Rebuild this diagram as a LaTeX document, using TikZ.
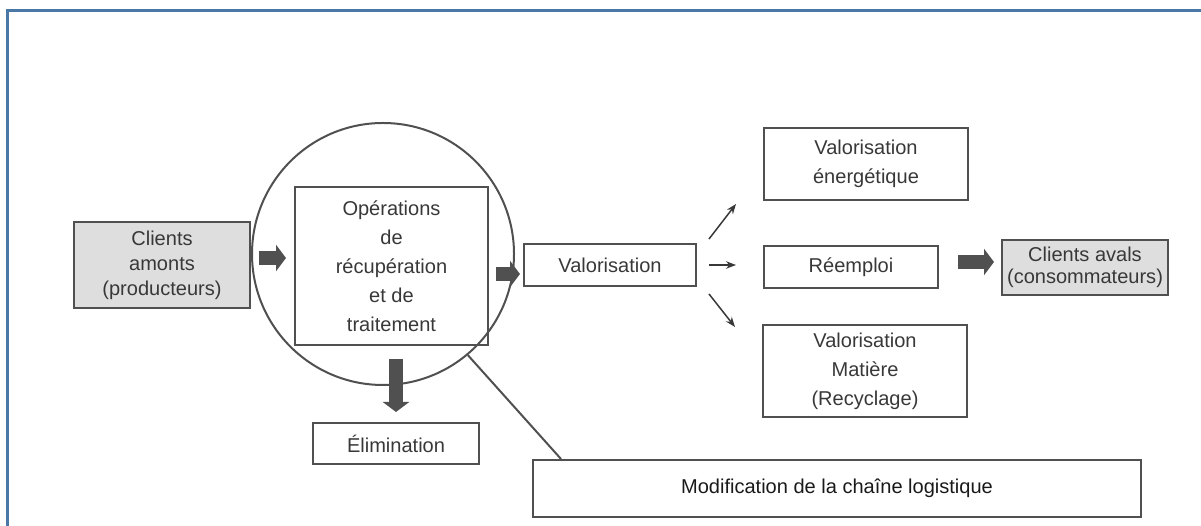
\documentclass[tikz,border=0pt]{standalone}
\usepackage{fontspec}
\setmainfont{Liberation Sans}
\usetikzlibrary{arrows.meta, positioning}

\definecolor{frameblue}{HTML}{4A78A6}
\definecolor{boxgray}{HTML}{505050}
\definecolor{txtgray}{HTML}{383838}
\definecolor{clientfill}{HTML}{DEDEDE}

\begin{document}
\begin{tikzpicture}[
        every node/.style={draw=boxgray, line width=0.04cm, text=txtgray, align=center,
            inner sep=0pt, font=\fontsize{11.4}{16.5}\selectfont},
        client/.style={fill=clientfill},
        fat/.style={-{Triangle[width=0.52cm, length=0.2cm]}, line width=0.28cm, boxgray}
    ]

    \tikzset{
    branch/.style={-{Stealth[length=0.2cm, width=0.15cm]}, line width=0.03cm, txtgray},
    link/.style={line width=0.04cm, boxgray}
}

    \useasboundingbox (0,0) rectangle (24.02,-10.52);
    \draw[frameblue, line width=0.06cm] (0.14,-10.7) -- (0.14,-0.22) -- (24.2,-0.22);

    \node[client, minimum width=3.52cm, minimum height=1.72cm, font=\fontsize{11.4}{14.2}\selectfont] (A) at (3.24,-5.30) {Clients\\amonts\\(producteurs)};
    \node[minimum width=3.86cm, minimum height=3.16cm] (O) at (7.83,-5.32) {Opérations\\de\\récupération\\et de\\traitement};
    \node[circle, minimum size=5.24cm] (R) at (7.66,-5.08) {};
    \node[minimum width=3.44cm, minimum height=0.84cm] (V) at (12.20,-5.30) {Valorisation};
    \node[minimum width=4.08cm, minimum height=1.44cm] (E) at (17.32,-3.28) {Valorisation\\énergétique};
    \node[minimum width=3.48cm, minimum height=0.84cm] (Re) at (17.02,-5.34) {Réemploi};
    \node[minimum width=4.08cm, minimum height=1.84cm] (M) at (17.30,-7.42) {Valorisation\\Matière\\(Recyclage)};
    \node[client, minimum width=3.32cm, minimum height=1.10cm, font=\fontsize{11.4}{12.5}\selectfont] (C) at (21.70,-5.35) {Clients avals\\(consommateurs)};
    \node[minimum width=3.32cm, minimum height=0.82cm] (L) at (7.92,-8.87) {Élimination};
    \node[minimum width=12.16cm, minimum height=1.14cm, text=black!90] (Mo) at (16.74,-9.77) {Modification de la chaîne logistique};

    \draw[fat, shorten <=0.16cm, shorten >=0.16cm] ([yshift=0.14cm]A.east) -- ([yshift=0.14cm]A.east -| O.west);
    \draw[fat, shorten <=0.14cm, shorten >=0.06cm] ([yshift=-0.16cm]O.east) -- ([yshift=-0.16cm]O.east -| V.west);
    \draw[fat, shorten <=0.26cm, shorten >=0.2cm] (O.south -| L.north) -- (L.north);
    \draw[fat, shorten <=0.38cm, shorten >=0.14cm] ([yshift=0.1cm]Re.east) -- ([yshift=0.1cm]Re.east -| C.west);

    \draw[branch] ([xshift=0.24cm, yshift=0.52cm]V.east) -- ([xshift=-0.54cm, yshift=-0.06cm]E.south west);
    \draw[branch] ([xshift=0.24cm]V.east) -- ([xshift=-0.54cm]V.east -| Re.west);
    \draw[branch] ([xshift=0.24cm, yshift=-0.58cm]V.east) -- ([xshift=-0.54cm, yshift=-0.06cm]M.north west);

    \draw[link] (R.-50) -- ([xshift=0.58cm]Mo.north west);
    \end{tikzpicture}
\end{document}
